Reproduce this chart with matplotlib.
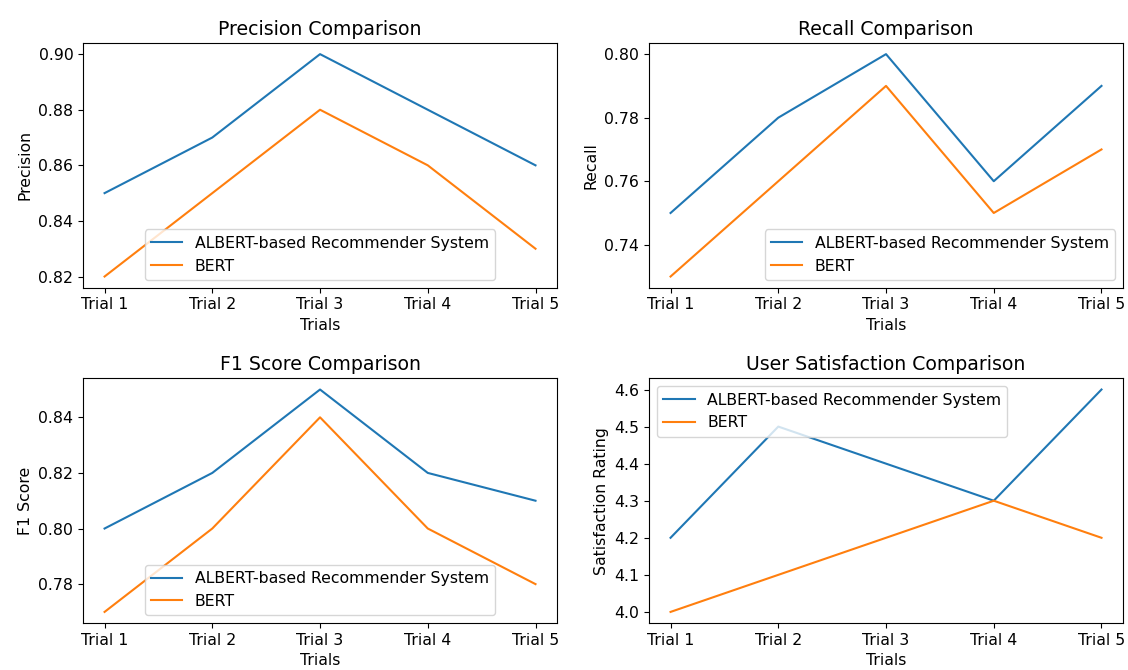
import matplotlib
matplotlib.use("Agg")
import matplotlib.pyplot as plt
from matplotlib.ticker import MultipleLocator

trials = ["Trial 1", "Trial 2", "Trial 3", "Trial 4", "Trial 5"]

albert_precision = [0.85, 0.87, 0.90, 0.88, 0.86]
bert_precision = [0.82, 0.85, 0.88, 0.86, 0.83]

albert_recall = [0.75, 0.78, 0.80, 0.76, 0.79]
bert_recall = [0.73, 0.76, 0.79, 0.75, 0.77]

albert_f1 = [0.80, 0.82, 0.85, 0.82, 0.81]
bert_f1 = [0.77, 0.80, 0.84, 0.80, 0.78]

albert_satisfaction = [4.2, 4.5, 4.4, 4.3, 4.6]
bert_satisfaction = [4.0, 4.1, 4.2, 4.3, 4.2]

panels = [
    ("Precision Comparison", "Precision", albert_precision, bert_precision, "lower center"),
    ("Recall Comparison", "Recall", albert_recall, bert_recall, "lower right"),
    ("F1 Score Comparison", "F1 Score", albert_f1, bert_f1, "lower center"),
    ("User Satisfaction Comparison", "Satisfaction Rating",
     albert_satisfaction, bert_satisfaction, "upper left"),
]

plt.rcParams.update({'font.size': 11.3})

fig, axes = plt.subplots(2, 2, figsize=(11.28, 6.7), dpi=100)

for ax, (title, ylabel, a, b, loc) in zip(axes.flat, panels):
    ax.plot(trials, a, label="ALBERT-based Recommender System")
    ax.plot(trials, b, label="BERT")
    ax.set_title(title)
    ax.set_xlabel("Trials")
    ax.set_ylabel(ylabel)
    ax.legend(loc=loc)

axes[0, 1].yaxis.set_major_locator(MultipleLocator(0.02))

plt.subplots_adjust(left=0.0736, right=0.9956, top=0.9358, bottom=0.0701,
                    wspace=0.194, hspace=0.371)
plt.savefig("out.png")
